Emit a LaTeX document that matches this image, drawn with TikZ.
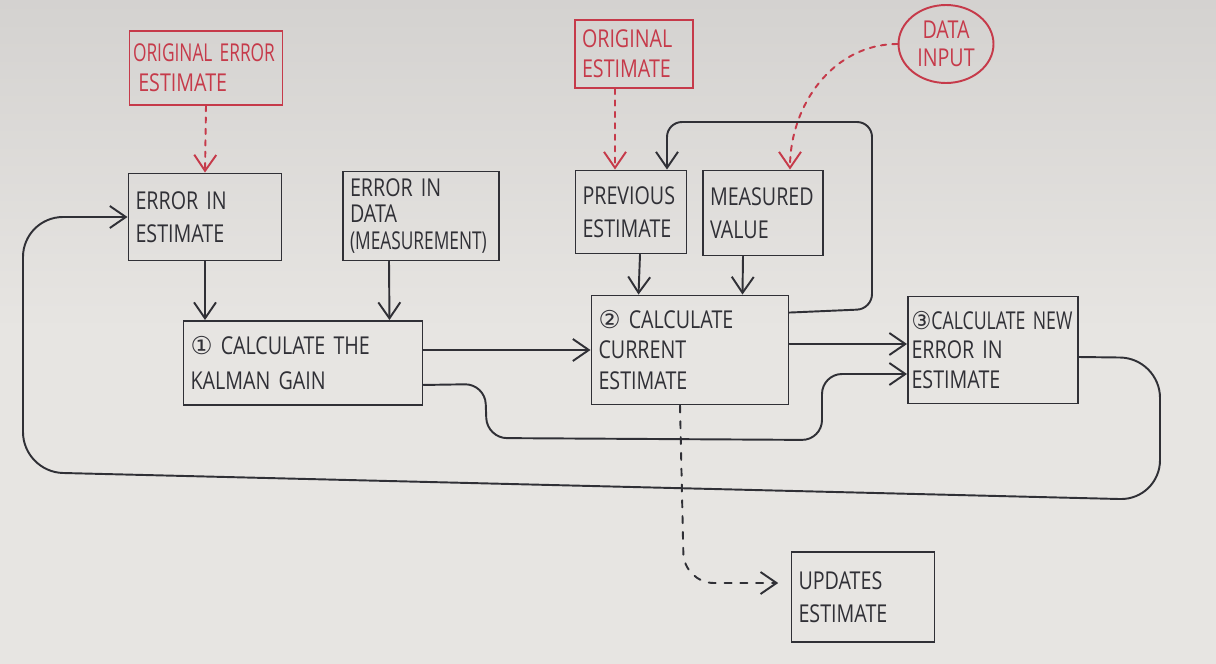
\documentclass[tikz,border=0pt]{standalone}
\usepackage{fontspec}
\usepackage{graphicx}
\setmainfont{Open Sans}[FakeStretch=0.8]
\newfontfamily\circfont{DejaVu Sans}
\usetikzlibrary{arrows.meta,shapes.geometric,calc}
\definecolor{board}{RGB}{231,229,226}
\definecolor{boardtop}{RGB}{212,210,208}
\definecolor{ink}{RGB}{48,48,54}
\definecolor{redink}{RGB}{198,58,74}

\begin{document}
\begin{tikzpicture}[x=0.02cm,y=-0.02cm,
        font=\fontsize{14}{19}\selectfont,
        box/.style={draw=ink,line width=1.1pt,text=ink,align=left,inner xsep=4pt,inner ysep=2pt},
        redbox/.style={box,draw=redink,text=redink},
        flow/.style={draw=ink,line width=1.1pt,line cap=round,-{Straight Barb[length=3.2mm,width=4.4mm]}},
        reddot/.style={flow,draw=redink,dash pattern=on 3pt off 3.5pt}]
        %Pizarra
        \shade[top color=boardtop,bottom color=board,middle color=board] (0,0) rectangle (1216,663);
        %Cajas de entrada
        \node[redbox,inner xsep=2pt,text width=2.92cm,minimum height=1.48cm,font=\fontsize{14}{17}\selectfont] (origerr) at (206,68) {\mbox{\scalebox{0.88}[1]{ORIGINAL ERROR}}\\\hspace{3pt}ESTIMATE};
        \node[redbox,text width=2.08cm,minimum height=1.36cm,font=\fontsize{14}{17}\selectfont] (origest) at (634,54) {ORIGINAL\\ESTIMATE};
        \node[ellipse,draw=redink,line width=1.1pt,text=redink,align=center,inner sep=0pt,minimum width=1.9cm,minimum height=1.56cm,font=\fontsize{14}{16}\selectfont] (datain) at (946,44) {DATA\\INPUT};
        \node[box,text width=2.78cm,minimum height=1.74cm] (errest) at (205,217) {\mbox{ERROR IN}\\ESTIMATE};
        \node[box,text width=2.84cm,minimum height=1.78cm,font=\fontsize{14}{15}\selectfont] (errdata) at (421,216) {\mbox{ERROR IN}\\DATA\\\mbox{\scalebox{0.88}[1]{(MEASUREMENT)}}};
        \node[box,text width=1.94cm,minimum height=1.66cm] (prevest) at (631,212) {PREVIOUS\\ESTIMATE};
        \node[box,text width=2.12cm,minimum height=1.7cm] (measval) at (763,213) {MEASURED\\VALUE};
        %Pasos
        \node[box,text width=4.5cm,minimum height=1.68cm,font=\fontsize{14}{20}\selectfont] (gain) at (303,363) {\mbox{{\circfont ①} CALCULATE THE}\\\mbox{KALMAN GAIN}};
        \node[box,text width=3.66cm,minimum height=2.18cm,font=\fontsize{14}{17.5}\selectfont] (curest) at (690,350) {\mbox{{\circfont ②} CALCULATE}\\CURRENT\\ESTIMATE};
        \node[box,inner xsep=2pt,text width=3.26cm,minimum height=2.14cm,font=\fontsize{14}{17}\selectfont] (newerr) at (993,350) {\mbox{\scalebox{0.9}[1]{{\circfont ③}CALCULATE NEW}}\\\mbox{ERROR IN}\\ESTIMATE};
        \node[box,text width=2.58cm,minimum height=1.8cm] (updest) at (863,597) {UPDATES\\ESTIMATE};
        %Entradas (rojo)
        \draw[reddot] (origerr.south) -- (errest.north);
        \draw[reddot] ($(origest.south)+(-19,0)$) -- ($(prevest.north)+(-16,0)$);
        \draw[reddot] (datain.west) to[out=180,in=90] ($(measval.north)+(27,0)$);
        %Flujo
        \draw[flow] (errest.south) -- (errest.south |- gain.north);
        \draw[flow] ($(errdata.south)+(-32,0)$) -- ($(gain.north east)+(-34,0)$);
        \draw[flow] (gain.east |- curest.west) -- (curest.west);
        \draw[flow,rounded corners=0.4cm] ($(gain.south east)+(0,-21)$) -- (485,384) -- (487,438) -- (822,440) -- (822,374) -- ($(newerr.west)+(0,24)$);
        \draw[flow] ($(prevest.south)+(9,0)$) -- ($(curest.north west)+(48,0)$);
        \draw[flow] ($(measval.south)+(-20,0)$) -- ($(curest.north east)+(-47,0)$);
        \draw[flow,rounded corners=0.3cm] ($(curest.north east)+(0,18)$) -- (872,309) -- (872,122) -- (667,122) -- ($(prevest.north)+(36,0)$);
        \draw[flow] ($(curest.east)+(0,-6)$) -- ($(newerr.west)+(0,-6)$);
        \draw[flow,rounded corners=0.8cm] ($(newerr.east)+(0,7)$) -- (1160,358) -- (1160,500) -- (23,472) -- (23,217) -- (errest.west);
        \draw[flow,dash pattern=on 4pt off 5pt,rounded corners=0.6cm,shorten >=7pt] ($(curest.south)+(-10,0)$) -- (684,583) -- ($(updest.west)+(0,-14)$);
    \end{tikzpicture}
\end{document}
